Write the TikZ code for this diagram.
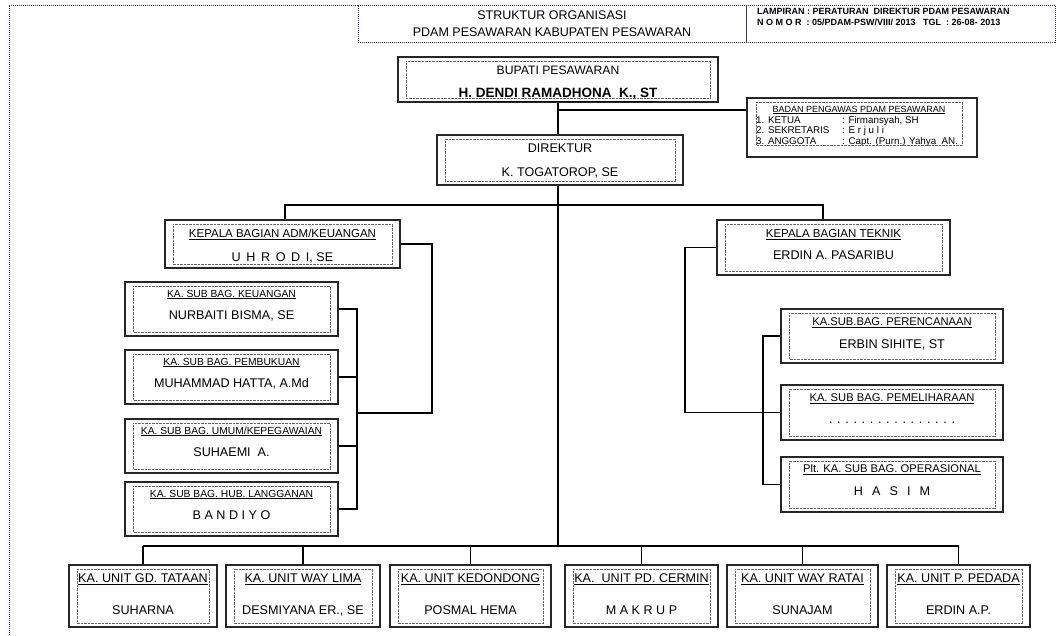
\documentclass[tikz,border=0pt]{standalone}
\usepackage{fontspec}
\setmainfont{Liberation Sans}
\tikzset{
  kotak/.style={draw=black!85, line width=1.1pt, inner sep=0pt},
  bingkai/.style={draw=gray!70!blue!60!black, dash pattern=on 1pt off 1pt, line width=0.8pt, inner sep=0pt},
  titik/.style={draw=gray!80!black, dash pattern=on 0.7pt off 0.7pt, line width=0.6pt},
  garis/.style={line width=1.1pt},
  teks/.style={anchor=base, inner sep=0pt, font=\fontsize{11.5}{13}\selectfont},
  nama/.style={anchor=base, inner sep=0pt, font=\fontsize{12.6}{14}\selectfont},
  tekskecil/.style={anchor=base, inner sep=0pt, font=\fontsize{10.3}{12}\selectfont},
}
\begin{document}
\begin{tikzpicture}[x=1pt, y=-1pt]
\useasboundingbox (0,0) rectangle (1059,635);

% kepala halaman
\draw[bingkai] (9,635) -- (9,5) -- (358,5);
\node[bingkai, minimum width=388, minimum height=37] (judul) at (552,23.5) {};
\node[bingkai, minimum width=309, minimum height=37] (lampiran) at (900.5,23.5) {};
\node[teks, font=\fontsize{12.5}{14}\selectfont] (judul1) at (552,19) {STRUKTUR ORGANISASI};
\node[teks, font=\fontsize{12.5}{14}\selectfont] (judul2) at (552,36) {PDAM PESAWARAN KABUPATEN PESAWARAN};
\node[teks, anchor=base west, font=\fontsize{9}{10}\selectfont\bfseries] (lampiran1) at (757,14.5) {LAMPIRAN :\ PERATURAN\ \ DIREKTUR PDAM PESAWARAN};
\node[teks, anchor=base west, font=\fontsize{9}{10}\selectfont\bfseries] (lampiran2) at (757,25.5) {N O M O R\ \ : 05/PDAM-PSW/VIII/ 2013\ \ \ TGL\ \ : 26-08- 2013};

% bupati dan badan pengawas
\node[kotak, minimum width=320, minimum height=45] (bupati) at (558,79.5) {};
\node[nama, font=\fontsize{12.2}{14}\selectfont] (bupatiJ) at (558,74.5) {BUPATI PESAWARAN};
\node[nama, font=\fontsize{13.5}{15}\selectfont\bfseries] (bupatiN) at (558,97.5) {\underline{H. DENDI RAMADHONA\ \ K., ST}};

\node[kotak, minimum width=230, minimum height=59] (badan) at (862,127.5) {};
\node[teks, font=\fontsize{9}{11}\selectfont] (badanJ) at (859,112) {\underline{BADAN PENGAWAS PDAM PESAWARAN}};
\node[anchor=base west, inner sep=0pt, font=\fontsize{9.8}{10.6}\selectfont] (badanIsi) at (756,123)
  {\begin{tabular}[t]{@{}p{86pt}@{}l@{}}
   1. KETUA & : Firmansyah, SH\\
   2. SEKRETARIS & : E r j u l i\\
   3. ANGGOTA & : Capt. (Purn.) Yahya\ \ AN.
   \end{tabular}};

% direktur
\node[kotak, minimum width=246, minimum height=50] (direktur) at (560,160) {};
\node[nama] (direkturJ) at (560,152.5) {DIREKTUR};
\node[nama] (direkturN) at (560,176.5) {K. TOGATOROP, SE};

% bagian
\node[kotak, minimum width=235, minimum height=48] (adm) at (282.5,244) {};
\node[teks] (admJ) at (282.5,237.5) {\underline{KEPALA BAGIAN ADM/KEUANGAN}};
\node[nama] (admN) at (282.5,261.5) {U\,\ H\,\ R\,\ O\,\ D\,\ I, SE};

\node[kotak, minimum width=233, minimum height=55] (teknik) at (833.5,247.5) {};
\node[teks] (teknikJ) at (833.5,237.5) {\underline{KEPALA BAGIAN TEKNIK}};
\node[nama] (teknikN) at (833.5,259.5) {ERDIN A. PASARIBU};

% sub bagian kiri
\node[kotak, minimum width=213, minimum height=54] (keu) at (231.5,309) {};
\node[tekskecil] (keuJ) at (231.5,297) {\underline{KA. SUB BAG. KEUANGAN}};
\node[nama] (keuN) at (231.5,319) {NURBAITI BISMA, SE};

\node[kotak, minimum width=213, minimum height=54] (pemb) at (231.5,377) {};
\node[tekskecil] (pembJ) at (231.5,365) {\underline{KA. SUB BAG. PEMBUKUAN}};
\node[nama] (pembN) at (231.5,387) {MUHAMMAD HATTA, A.Md};

\node[kotak, minimum width=213, minimum height=54] (umum) at (231.5,446) {};
\node[tekskecil] (umumJ) at (231.5,434) {\underline{KA. SUB BAG. UMUM/KEPEGAWAIAN}};
\node[nama] (umumN) at (231.5,456) {SUHAEMI\ \ A.};

\node[kotak, minimum width=213, minimum height=54] (hub) at (231.5,509) {};
\node[tekskecil] (hubJ) at (231.5,497) {\underline{KA. SUB BAG. HUB. LANGGANAN}};
\node[nama] (hubN) at (231.5,519) {B A N D I Y O};

% sub bagian kanan
\node[kotak, minimum width=222, minimum height=54] (peren) at (892,336) {};
\node[teks, font=\fontsize{11.2}{13}\selectfont] (perenJ) at (892,325.5) {\underline{KA.SUB.BAG. PERENCANAAN}};
\node[nama] (perenN) at (892,348) {ERBIN SIHITE, ST};

\node[kotak, minimum width=222, minimum height=55] (pemel) at (892,412.5) {};
\node[teks, font=\fontsize{11.2}{13}\selectfont] (pemelJ) at (892,401.5) {\underline{KA. SUB BAG. PEMELIHARAAN}};
\node[nama] (pemelN) at (892,423) {. . . . . . . . . . . . . . . .};

\node[kotak, minimum width=222, minimum height=55] (oper) at (892,484.5) {};
\node[teks, font=\fontsize{11.2}{13}\selectfont] (operJ) at (892,472.5) {\underline{Plt. KA. SUB BAG. OPERASIONAL}};
\node[nama] (operN) at (892,495) {H\ \ \,A\ \ \,S\ \ \,I\ \ \,M};

% unit
\node[kotak, minimum width=148, minimum height=62] (u1) at (143,596) {};
\node[nama] (u1J) at (143,582.5) {\underline{KA. UNIT GD. TATAAN}};
\node[nama] (u1N) at (143,614.5) {SUHARNA};

\node[kotak, minimum width=154, minimum height=62] (u2) at (303,596) {};
\node[nama] (u2J) at (303,582.5) {\underline{KA. UNIT WAY LIMA}};
\node[nama] (u2N) at (303,614.5) {DESMIYANA ER., SE};

\node[kotak, minimum width=161, minimum height=62] (u3) at (470.5,596) {};
\node[nama] (u3J) at (470.5,582.5) {\underline{KA. UNIT KEDONDONG}};
\node[nama] (u3N) at (470.5,614.5) {POSMAL HEMA};

\node[kotak, minimum width=153, minimum height=62] (u4) at (641.5,596) {};
\node[nama] (u4J) at (641.5,582.5) {\underline{KA.\ \ UNIT PD. CERMIN}};
\node[nama] (u4N) at (641.5,614.5) {M A K R U P};

\node[kotak, minimum width=151, minimum height=62] (u5) at (802.5,596) {};
\node[nama] (u5J) at (802.5,582.5) {\underline{KA. UNIT WAY RATAI}};
\node[nama] (u5N) at (802.5,614.5) {SUNAJAM};

\node[kotak, minimum width=143, minimum height=62] (u6) at (958.5,596) {};
\node[nama] (u6J) at (958.5,582.5) {\underline{KA. UNIT P. PEDADA}};
\node[nama] (u6N) at (958.5,614.5) {ERDIN A.P.};

% bingkai dalam bertitik
\foreach \k in {bupati,direktur,adm,teknik,keu,pemb,umum,hub,peren,pemel,oper,u1,u2,u3,u4,u5,u6}
  \draw[titik] ([shift={(9,5)}]\k.north west) rectangle ([shift={(-8,-4)}]\k.south east);
\draw[titik] ([shift={(10,5)}]badan.north west) rectangle ([shift={(-15,-12)}]badan.south east);

% garis
\coordinate (cabang) at (558,110);
\coordinate (pusat) at (558,546);
\coordinate (kiri) at (285,205);
\coordinate (kanan) at (823,205);
\coordinate (admturun) at (432,413);
\coordinate (subkiri) at (357,413);
\coordinate (tekbelok) at (685,412.5);
\coordinate (subkanan) at (763,412.5);

\draw[garis] (bupati.south) -- (direktur.north -| bupati.south);
\draw[garis] (direktur.south -| bupati.south) -- (pusat);
\draw[garis] (cabang) -- (cabang -| badan.west);
\draw[garis] (adm.north -| kiri) -- (kiri) -- (kanan) -- (teknik.north -| kanan);

\draw[garis] (adm.east) -| (admturun) -- (subkiri);
\draw[garis] (keu.east) -- (keu.east -| subkiri) -- (hub.east -| subkiri) -- (hub.east);
\draw[garis] (pemb.east) -- (pemb.east -| subkiri);
\draw[garis] (umum.east) -- (umum.east -| subkiri);

\draw[garis] (teknik.west) -| (tekbelok) -- (pemel.west);
\draw[garis] (peren.west) -- (peren.west -| subkanan) -- (oper.west -| subkanan) -- (oper.west);

\draw[garis] (u1.north |- pusat) -- (u6.north |- pusat);
\foreach \u in {u1,u2,u3,u4,u5,u6}
  \draw[garis] (\u.north) -- (\u.north |- pusat);

\end{tikzpicture}
\end{document}
